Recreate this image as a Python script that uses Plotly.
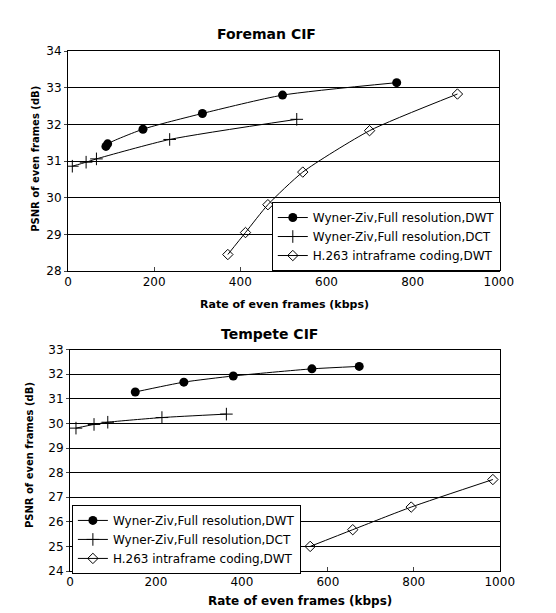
import plotly.graph_objects as go

# Foreman CIF
fore_dwt_x = [88, 92, 174, 312, 498, 763]
fore_dwt_y = [31.40, 31.47, 31.87, 32.30, 32.80, 33.14]
fore_dct_x = [10, 42, 66, 236, 531]
fore_dct_y = [30.86, 30.97, 31.06, 31.59, 32.14]
fore_h263_x = [371, 412, 464, 545, 700, 904]
fore_h263_y = [28.45, 29.05, 29.81, 30.70, 31.83, 32.83]

# Tempete CIF
temp_dwt_x = [152, 265, 380, 563, 673]
temp_dwt_y = [31.28, 31.68, 31.93, 32.22, 32.32]
temp_dct_x = [14, 56, 88, 214, 364]
temp_dct_y = [29.81, 29.96, 30.05, 30.24, 30.38]
temp_h263_x = [559, 658, 794, 984]
temp_h263_y = [25.00, 25.68, 26.60, 27.72]

names = ["Wyner-Ziv,Full resolution,DWT",
         "Wyner-Ziv,Full resolution,DCT",
         "H.263 intraframe coding,DWT"]
x_ticks = [0, 200, 400, 600, 800, 1000]

W, H = 556, 613
FONT = "DejaVu Sans"

def px(v):
    return v / W

def py(v):
    return 1 - v / H

styles = [
    dict(symbol="circle", size=9, color="black", line=dict(width=0)),
    dict(symbol="cross-thin", size=9, color="black", line=dict(width=1, color="black")),
    dict(symbol="diamond-open", size=8, color="black", line=dict(width=1, color="black")),
]

fig = go.Figure()
sets = [
    ("x", "y", "legend", [(fore_dwt_x, fore_dwt_y), (fore_dct_x, fore_dct_y), (fore_h263_x, fore_h263_y)]),
    ("x2", "y2", "legend2", [(temp_dwt_x, temp_dwt_y), (temp_dct_x, temp_dct_y), (temp_h263_x, temp_h263_y)]),
]
for xa, ya, lg, series in sets:
    for i, (xs, ys) in enumerate(series):
        fig.add_trace(go.Scatter(
            x=xs, y=ys, mode="lines+markers", name=names[i],
            line=dict(color="black", width=1, shape="spline", smoothing=0.6),
            marker=styles[i], xaxis=xa, yaxis=ya, legend=lg,
        ))

axis_common = dict(showline=True, linecolor="black", linewidth=1, mirror=True,
                   tickfont=dict(family=FONT, size=12, color="black"), zeroline=False)

leg_common = dict(xanchor="left", yanchor="bottom", bgcolor="white", bordercolor="black",
                  borderwidth=1, font=dict(family=FONT, size=12, color="black"),
                  itemwidth=30, tracegroupgap=0)

fig.update_layout(
    width=W, height=H, margin=dict(l=0, r=0, t=0, b=0),
    paper_bgcolor="white", plot_bgcolor="white",
    font=dict(family=FONT, color="black"),
    xaxis=dict(domain=[px(58), px(504)], anchor="y", range=[0, 1000], tickvals=x_ticks,
               ticks="inside", ticklen=4, showgrid=False, **axis_common),
    yaxis=dict(domain=[py(262), py(37)], anchor="x", range=[28, 34], dtick=1,
               ticks="outside", ticklen=3, showgrid=True, gridcolor="black", gridwidth=1,
               **axis_common),
    xaxis2=dict(domain=[px(60), px(505)], anchor="y2", range=[0, 1000], tickvals=x_ticks,
                ticks="inside", ticklen=4, showgrid=False, **axis_common),
    yaxis2=dict(domain=[py(569), py(342.5)], anchor="x2", range=[24, 33], dtick=1,
                ticks="outside", ticklen=3, showgrid=True, gridcolor="black", gridwidth=1,
                **axis_common),
    legend=dict(x=px(269), y=py(262), **leg_common),
    legend2=dict(x=px(62), y=py(572), **leg_common),
    showlegend=True,
)

ann = [
    dict(text="<b>Foreman CIF</b>", x=px(264), y=py(19), size=14),
    dict(text="<b>Tempete CIF</b>", x=px(267), y=py(326), size=14),
    dict(text="<b>Rate of even frames (kbps)</b>", x=px(282), y=py(296), size=11),
    dict(text="<b>Rate of even frames (kbps)</b>", x=px(298), y=py(600), size=12),
]
for a in ann:
    fig.add_annotation(text=a["text"], x=a["x"], y=a["y"], xref="paper", yref="paper",
                       xanchor="center", yanchor="middle", showarrow=False,
                       font=dict(family=FONT, size=a["size"], color="black"))
for yc, xc in [(147, 24), (450, 18)]:
    fig.add_annotation(text="<b>PSNR of even frames (dB)</b>", x=px(xc), y=py(yc),
                       xref="paper", yref="paper", xanchor="center", yanchor="middle",
                       showarrow=False, textangle=-90,
                       font=dict(family=FONT, size=10, color="black"))

fig.write_html("out.html")
